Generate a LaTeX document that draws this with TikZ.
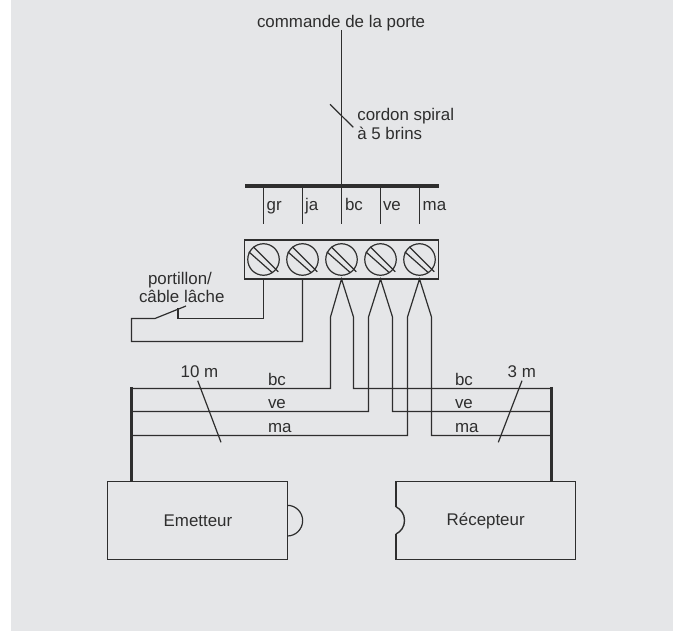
\documentclass[tikz,border=0pt]{standalone}
\usepackage{fontspec}
\setmainfont{Liberation Sans}
\definecolor{ink}{HTML}{2E2E2E}
\definecolor{panel}{HTML}{E5E6E8}
\tikzset{
  wire/.style={draw=ink,line width=1.2pt,line join=miter},
  heavy/.style={draw=ink,line width=3.2pt},
  lbl/.style={anchor=base west,inner sep=0pt,outer sep=0pt,yshift=-0.8pt,text=ink,font=\fontsize{16.9}{20}\selectfont},
  screw/.style={circle,draw=ink,line width=1.2pt,minimum size=31.5pt,inner sep=0pt},
  termbox/.style={rectangle,draw=ink,line width=1.3pt,minimum width=194pt,minimum height=39pt,inner sep=0pt},
  devbox/.style={rectangle,draw=ink,line width=1.4pt,minimum width=179.6pt,minimum height=77.6pt,inner sep=0pt},
}
\begin{document}
\begin{tikzpicture}[x=1pt,y=-1pt]
\useasboundingbox (0,0) rectangle (680,631);
\fill[panel] (11,0) rectangle (673,631);
% top
\node[lbl] (cmd) at (257,26.7) {commande de la porte};
\coordinate (top) at (341.5,30);
\coordinate (barL) at (245,186);
\coordinate (barR) at (439,186);
\coordinate (barM) at (341.5,186);
\draw[wire] (top) -- (barM);
\draw[heavy] (barL) -- (barR);
\coordinate (ca) at (330,104.3); \coordinate (cb) at (353.3,127.3);
\draw[wire] (ca) -- (cb);
\node[lbl] (cord1) at (357.3,120) {cordon spiral};
\node[lbl] (cord2) at (357.3,139) {à 5 brins};
% terminals
\node[termbox] (tb) at (341.75,259.5) {};
\foreach \n/\x in {1/263.5,2/302.5,3/341.5,4/380.5,5/419.5}{
  \node[screw] (t\n) at (\x,259.5) {};
  \coordinate (s\n) at (\x,186);
  \coordinate (e\n) at (\x,224);
  \coordinate (b\n) at (\x,279);
  \draw[wire] (s\n) -- (e\n);
  \draw[wire] (\x-10.3,259.5-12.7) -- (\x+14.7,259.5+12.3);
  \draw[wire] (\x-14.7,259.5-7.7) -- (\x+9,259.5+13.3);
}
\node[lbl] (lgr) at (266.7,210) {gr};
\node[lbl] (lja) at (305,210) {ja};
\node[lbl] (lbc) at (345,210) {bc};
\node[lbl] (lve) at (383,210) {ve};
\node[lbl] (lma) at (422.7,210) {ma};
% portillon
\node[lbl] (p1) at (148,284) {portillon/};
\node[lbl] (p2) at (139,302) {câble lâche};
\coordinate (q1) at (178,318.5);
\coordinate (q2) at (178,307.5);
\coordinate (sw) at (155,318.5);
\coordinate (swe) at (186,306);
\coordinate (lc) at (131.5,318.5);
\coordinate (ld) at (131.5,341.5);
\draw[wire] (b1) |- (q1) -- (q2);
\draw[wire] (swe) -- (sw) -- (lc) -- (ld) -| (b2);
% devices
\node[devbox] (em) at (197.5,520.5) {};
\node[devbox] (re) at (485.8,520.5) {};
\node[lbl] (emt) at (163.7,526) {Emetteur};
\node[lbl] (ret) at (446.7,525) {Récepteur};
% bump on emitter
\coordinate (bA) at (287.3,505.3);
\coordinate (bB) at (287.3,536);
\draw[wire] (bA) arc[start angle=-90,end angle=90,radius=15.35];
% notch on receiver
\coordinate (nA) at (396,506.7);
\coordinate (nB) at (396,534);
\fill[panel] (394,507) rectangle (398,533.7);
\draw[draw=ink,line width=1.4pt] (nA) .. controls (401,509.5) and (404.5,514) .. (404.5,520.4) .. controls (404.5,527) and (401,531.5) .. (nB);
% heavy bars
\coordinate (lt) at (131.5,386.8);
\coordinate (lb) at (131.5,481.7);
\coordinate (rt) at (551.7,386.8);
\coordinate (rb) at (551.7,481.7);
\draw[heavy] (lt) -- (lb);
\draw[heavy] (rt) -- (rb);
% forks and cables
\foreach \n/\xa/\xb/\y/\lab in {3/330.5/353.5/388.5/bc,4/368.5/392.5/411.5/ve,5/407.5/431.5/435.5/ma}{
  \coordinate (fa\n) at (\xa,317);
  \coordinate (fb\n) at (\xb,317);
  \coordinate (ga\n) at (\xa,\y);
  \coordinate (gb\n) at (\xb,\y);
  \coordinate (hl\n) at (131.5,\y);
  \coordinate (hr\n) at (551.7,\y);
  \draw[wire] (hl\n) -- (ga\n) -- (fa\n) -- (b\n) -- (fb\n) -- (gb\n) -- (hr\n);
  \node[lbl] (la\n) at (268,\y-4) {\lab};
  \node[lbl] (lb\n) at (455,\y-4) {\lab};
}
% length ticks
\node[lbl] (l10) at (180.7,376.7) {10 m};
\node[lbl] (l3) at (507.7,376.7) {3 m};
\coordinate (ta) at (197.7,380.7); \coordinate (tb2) at (221,442.3);
\coordinate (ua) at (522,380.7); \coordinate (ub) at (498.3,442.3);
\draw[wire] (ta) -- (tb2);
\draw[wire] (ua) -- (ub);
\end{tikzpicture}
\end{document}
